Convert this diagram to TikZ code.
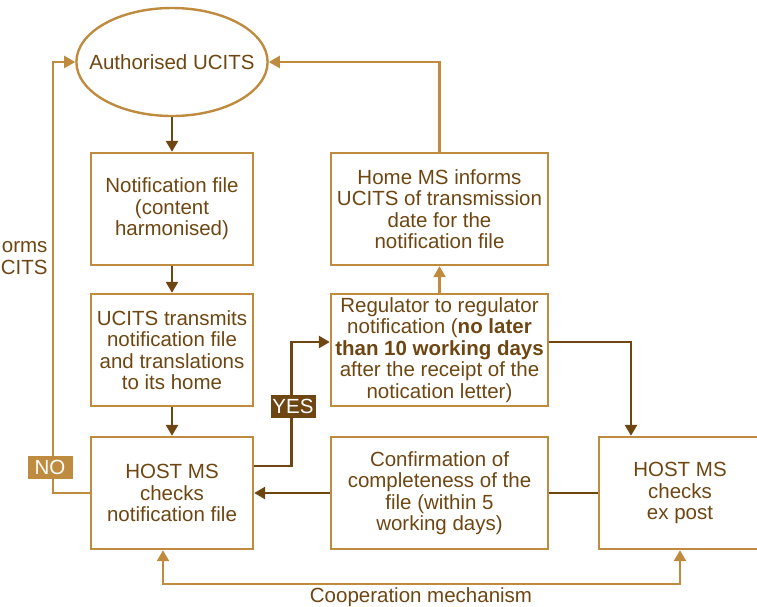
\documentclass[tikz,border=0pt]{standalone}
\usepackage{fontspec}
\setmainfont{Liberation Sans}
\usetikzlibrary{arrows.meta, positioning, shapes.geometric}
\definecolor{boxtan}{HTML}{BF8B3E}
\definecolor{darkbrown}{HTML}{6E4612}

\begin{document}
\begin{tikzpicture}[x=1pt, y=-1pt,
	every node/.style={font=\fontsize{20.5}{21.5}\selectfont, text=darkbrown, align=center},
	stage/.style={draw=boxtan, line width=2.4pt, rectangle, minimum width=162pt, minimum height=112pt, inner sep=0pt},
	widestage/.style={stage, minimum width=217pt},
	tip/.style={-{Triangle[length=11pt, width=12pt]}},
	darr/.style={draw=darkbrown, line width=2.6pt, tip},
	tarr/.style={draw=boxtan, line width=2.4pt, tip},
	answer/.style={inner sep=0pt, minimum width=45pt, minimum height=23pt, text=white}
]

\useasboundingbox (0,0) rectangle (757,606);
\clip (0,0) rectangle (757,606);

\def \xl{172}   % left column
\def \xm{439.5} % middle column
\def \xr{680}   % right column

% nodes
\node[ellipse, draw=boxtan, line width=2.4pt, inner xsep=-15pt, inner ysep=0pt, minimum height=108pt] (ucits) at (\xl, 62) {Authorised UCITS};

\node[stage] (notif)    at (\xl, 209) {Notification file\\(content\\harmonised)};
\node[stage] (transmit) at (\xl, 350) {UCITS transmits\\notification file\\and translations\\to its home};
\node[stage] (hostms)   at (\xl, 493) {HOST MS\\checks\\notification file};

\node[widestage] (homems)  at (\xm, 209) {Home MS informs\\UCITS of transmission\\date for the\\notification file};
\node[widestage] (regreg)  at (\xm, 350) {Regulator to regulator\\notification (\textbf{no later}\\\textbf{than 10 working days}\\after the receipt of the\\notication letter)};
\node[widestage] (confirm) at (\xm, 493) {Confirmation of\\completeness of the\\file (within 5\\working days)};

\node[stage] (expost) at (\xr, 493) {HOST MS\\checks\\ex post};

\node[anchor=east, align=right] (informs) at (51, 258) {orms\\CITS}; % cut off at the edge

% main chain
\draw[darr] (ucits) -- (notif);
\draw[darr] (notif) -- (transmit);
\draw[darr] (transmit) -- (hostms);

% yes / no
\draw[darr] ([yshift=27pt]hostms.east) -- ++(37,0) |- ([yshift=8pt]regreg.west);
\node[answer, fill=darkbrown] (yes) at (293, 406) {YES};
\draw[tarr] (hostms.west) -- ++(-37,0) |- (ucits.west);
\node[answer, fill=boxtan] (no) at (50, 467) {NO};

% back to the UCITS
\draw[tarr] (regreg) -- (homems);
\draw[tarr] (homems.north) |- (ucits.east);

% ex post check
\draw[darr] ([yshift=8pt]regreg.east) -| ([xshift=-49pt]expost.north);
\draw[draw=darkbrown, line width=2.6pt] (expost.west) -- (confirm.east);
\draw[darr] (confirm.west) -- (hostms.east);

% cooperation
\draw[tarr, {Triangle[length=11pt, width=12pt]}-{Triangle[length=11pt, width=12pt]}] ([xshift=-9pt]hostms.south) -- ++(0,34) -| (expost.south);
\node (coop) at (421, 597) {Cooperation mechanism};

\end{tikzpicture}
\end{document}
